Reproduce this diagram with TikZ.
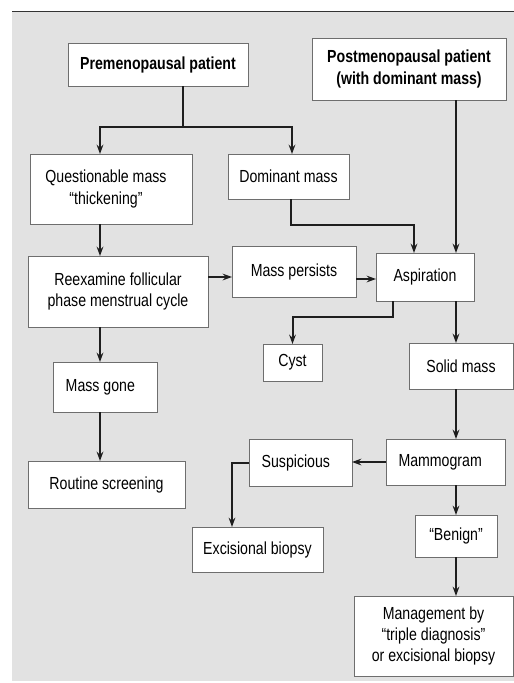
\documentclass[tikz,border=0pt]{standalone}
\usepackage{fontspec}
\setmainfont{Liberation Sans}[FakeStretch=0.81]
\usetikzlibrary{arrows.meta}
\definecolor{bgc}{HTML}{E2E2E2}
\definecolor{boxline}{HTML}{6E6E6E}
\definecolor{conncol}{HTML}{1E1E1E}
\newcommand\bbox[7][]{%
  \node[box,#1,minimum width={(#4-#2)*0.75pt},minimum height={(#5-#3)*0.75pt}]
    (#7) at ({(#2+#4)/2},{(#3+#5)/2}) {#6};}
\tikzset{
  box/.style={draw=boxline,fill=white,line width=0.75pt,inner sep=0pt,outer sep=0pt,align=center},
  conn/.style={draw=conncol,line width=1.5pt},
  arr/.style={conn,-{Stealth[length=7pt,width=5pt]}},
}
\begin{document}
\begin{tikzpicture}[x=0.75pt,y=-0.75pt,font=\fontsize{13.1pt}{16.1pt}\selectfont]
\useasboundingbox (0,0) rectangle (514,683);
\fill[bgc] (12,12) rectangle (514,681);
\draw[line width=1.1pt,draw=black!80] (12,11.5) -- (514,11.5);

\bbox{68}{43}{248}{86}{\bfseries Premenopausal patient}{pre}
\bbox{312}{38}{506}{100}{\bfseries Postmenopausal patient\\\bfseries (with dominant mass)}{post}
\bbox{30}{154}{192}{224}{\kern-7.5pt Questionable mass\\\kern-7.5pt “thickening”}{quest}
\bbox{228}{154}{349}{199}{Dominant mass}{dom}
\bbox{28}{256}{208}{327}{Reexamine follicular\\phase menstrual cycle}{reex}
\bbox{232}{246}{356}{297}{Mass persists}{pers}
\bbox{376}{253}{474}{301}{Aspiration}{asp}
\bbox{263}{344}{322}{381}{Cyst}{cyst}
\bbox{409}{343}{513}{389}{Solid mass}{solid}
\bbox{53}{362}{157}{412}{\kern-3.5pt Mass gone\kern3.5pt}{gone}
\bbox{28}{461}{185}{508}{Routine screening}{rout}
\bbox{249}{439}{352}{486}{\kern-3.5pt Suspicious\kern3.5pt}{susp}
\bbox{386}{439}{505}{485}{\kern-4pt Mammogram\kern4pt}{mamm}
\bbox{192}{527}{323}{572}{Excisional biopsy}{exc}
\bbox{415}{515}{497}{557}{“Benign”}{ben}
\bbox{354}{596}{513}{676}{Management by\\“triple diagnosis”\\or excisional biopsy}{man}

\coordinate (j1) at (183,127);
\coordinate (xl) at (100,0);
\coordinate (xr) at (292,0);
\coordinate (xm) at (456,0);
\coordinate (x414) at (414,0);
\coordinate (j2) at (291,225);
\coordinate (j4) at (393,317);
\coordinate (y277) at (0,277);
\coordinate (y279) at (0,279);
\coordinate (x232) at (232,0);

\draw[conn] (pre.south -| j1) -- (j1);
\draw[arr] (j1) -| (quest.north -| xl);
\draw[arr] (j1) -| (dom.north -| xr);
\draw[arr] (post.south -| xm) -- (asp.north -| xm);
\draw[arr] (dom.south -| j2) -- (j2) -| (asp.north -| x414);
\draw[arr] (quest.south -| xl) -- (reex.north -| xl);
\draw[arr] (reex.east |- y277) -- (pers.west |- y277);
\draw[arr] (pers.east |- y279) -- (asp.west |- y279);
\draw[arr] (asp.south -| j4) -- (j4) -| (cyst.north);
\draw[arr] (asp.south -| xm) -- (solid.north -| xm);
\draw[arr] (reex.south -| xl) -- (gone.north -| xl);
\draw[arr] (gone.south -| xl) -- (rout.north -| xl);
\draw[arr] (solid.south -| xm) -- (mamm.north -| xm);
\draw[arr] (mamm.west) -- (susp.east |- mamm.west);
\draw[arr] (susp.west) -| (exc.north -| x232);
\draw[arr] (mamm.south -| xm) -- (ben.north -| xm);
\draw[arr] (ben.south -| xm) -- (man.north -| xm);
\end{tikzpicture}
\end{document}
